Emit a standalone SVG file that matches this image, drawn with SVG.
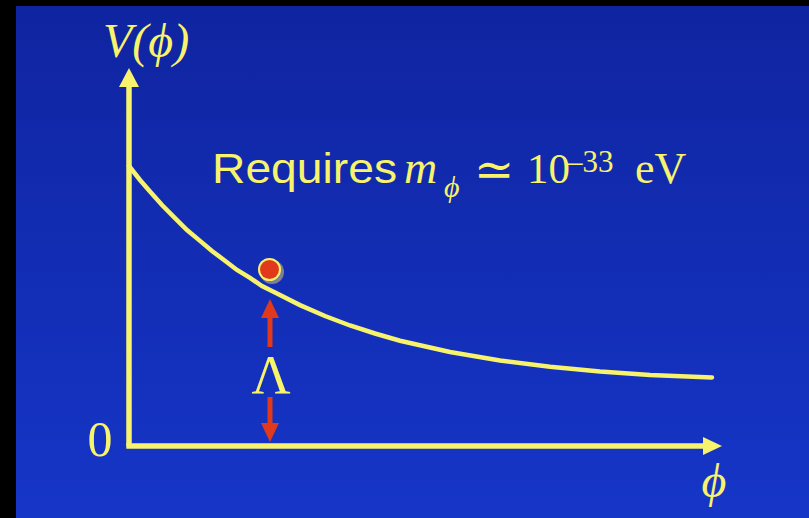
<svg xmlns="http://www.w3.org/2000/svg" width="809" height="518" viewBox="0 0 809 518">
  <defs>
    <linearGradient id="bg" x1="0" y1="0" x2="0" y2="1">
      <stop offset="0" stop-color="#0f24a0"/>
      <stop offset="1" stop-color="#1636c8"/>
    </linearGradient>
    <style>
      .ax { stroke: #f7f36c; stroke-width: 5.5; fill: none; }
      .curve { stroke: #f7f36c; stroke-width: 4.5; fill: none; stroke-linecap: round; }
      .head { fill: #f7f36c; }
      .red { stroke: #e0391c; stroke-width: 5; fill: none; }
      .redhead { fill: #e0391c; }
      .serif { font-family: "Liberation Serif", "DejaVu Serif", serif; fill: #f7f36c; }
      .it { font-style: italic; }
      .sans { font-family: "Liberation Sans", Arial, sans-serif; fill: #f7f36c; }
    </style>
  </defs>
  <rect x="0" y="0" width="809" height="518" fill="#000"/>
  <rect x="16" y="6" width="793" height="512" fill="url(#bg)"/>

  <g id="connectors">
    <g id="y-axis">
      <line class="ax" x1="129" y1="446" x2="129" y2="84"/>
      <polygon class="head" points="129,68 119,87 139,87"/>
    </g>
    <g id="x-axis">
      <line class="ax" x1="126.25" y1="446" x2="705" y2="446"/>
      <polygon class="head" points="722,446 703,437 703,455"/>
    </g>
    <g id="lambda-arrow">
      <line class="red" x1="270" y1="316" x2="270" y2="347"/>
      <polygon class="redhead" points="270,299 261,318 279,318"/>
      <line class="red" x1="270" y1="397" x2="270" y2="425"/>
      <polygon class="redhead" points="270,442 261,423 279,423"/>
    </g>
  </g>

  <g id="potential-curve">
    <polyline class="curve" points="129,166 140,180 150,191.5 162,205 175,218.1 187,230 200,240.9 212,251 225,260.7 237,270 250,277.8 262,286 275,292.5 300,305.1 325,316 350,325.5 375,333.5 400,340.7 450,352 500,360.5 550,366.7 600,371.4 650,374.9 712,377.5"/>
  </g>

  <g id="ball">
    <circle cx="272" cy="272" r="12" fill="#8f8f8f" opacity="0.85"/>
    <circle cx="269.5" cy="269.5" r="11.5" fill="#f7f36c"/>
    <circle cx="269.5" cy="269.5" r="9.5" fill="#e0391c"/>
  </g>

  <g id="labels">
    <text class="serif it" x="103" y="57" font-size="48">V(<tspan>ϕ</tspan>)</text>
    <text class="serif" x="100" y="456" font-size="50" text-anchor="middle">0</text>
    <text class="serif it" x="714" y="497" font-size="48" text-anchor="middle">ϕ</text>
    <text class="serif" x="271" y="393" font-size="54" text-anchor="middle">Λ</text>
  </g>

  <g id="requires-label">
    <text class="sans" x="212" y="183" font-size="42" textLength="185" lengthAdjust="spacingAndGlyphs">Requires</text>
    <text class="serif it" x="404" y="183" font-size="46">m</text>
    <text class="serif it" x="444" y="197" font-size="30">ϕ</text>
    <text x="494" y="186" font-size="48" font-family="DejaVu Serif, serif" fill="#f7f36c" text-anchor="middle">≃</text>
    <text class="serif" x="527" y="183" font-size="43">10</text>
    <text class="serif" x="567" y="172" font-size="31">–33</text>
    <text class="serif" x="635" y="183" font-size="44">eV</text>
  </g>
</svg>
